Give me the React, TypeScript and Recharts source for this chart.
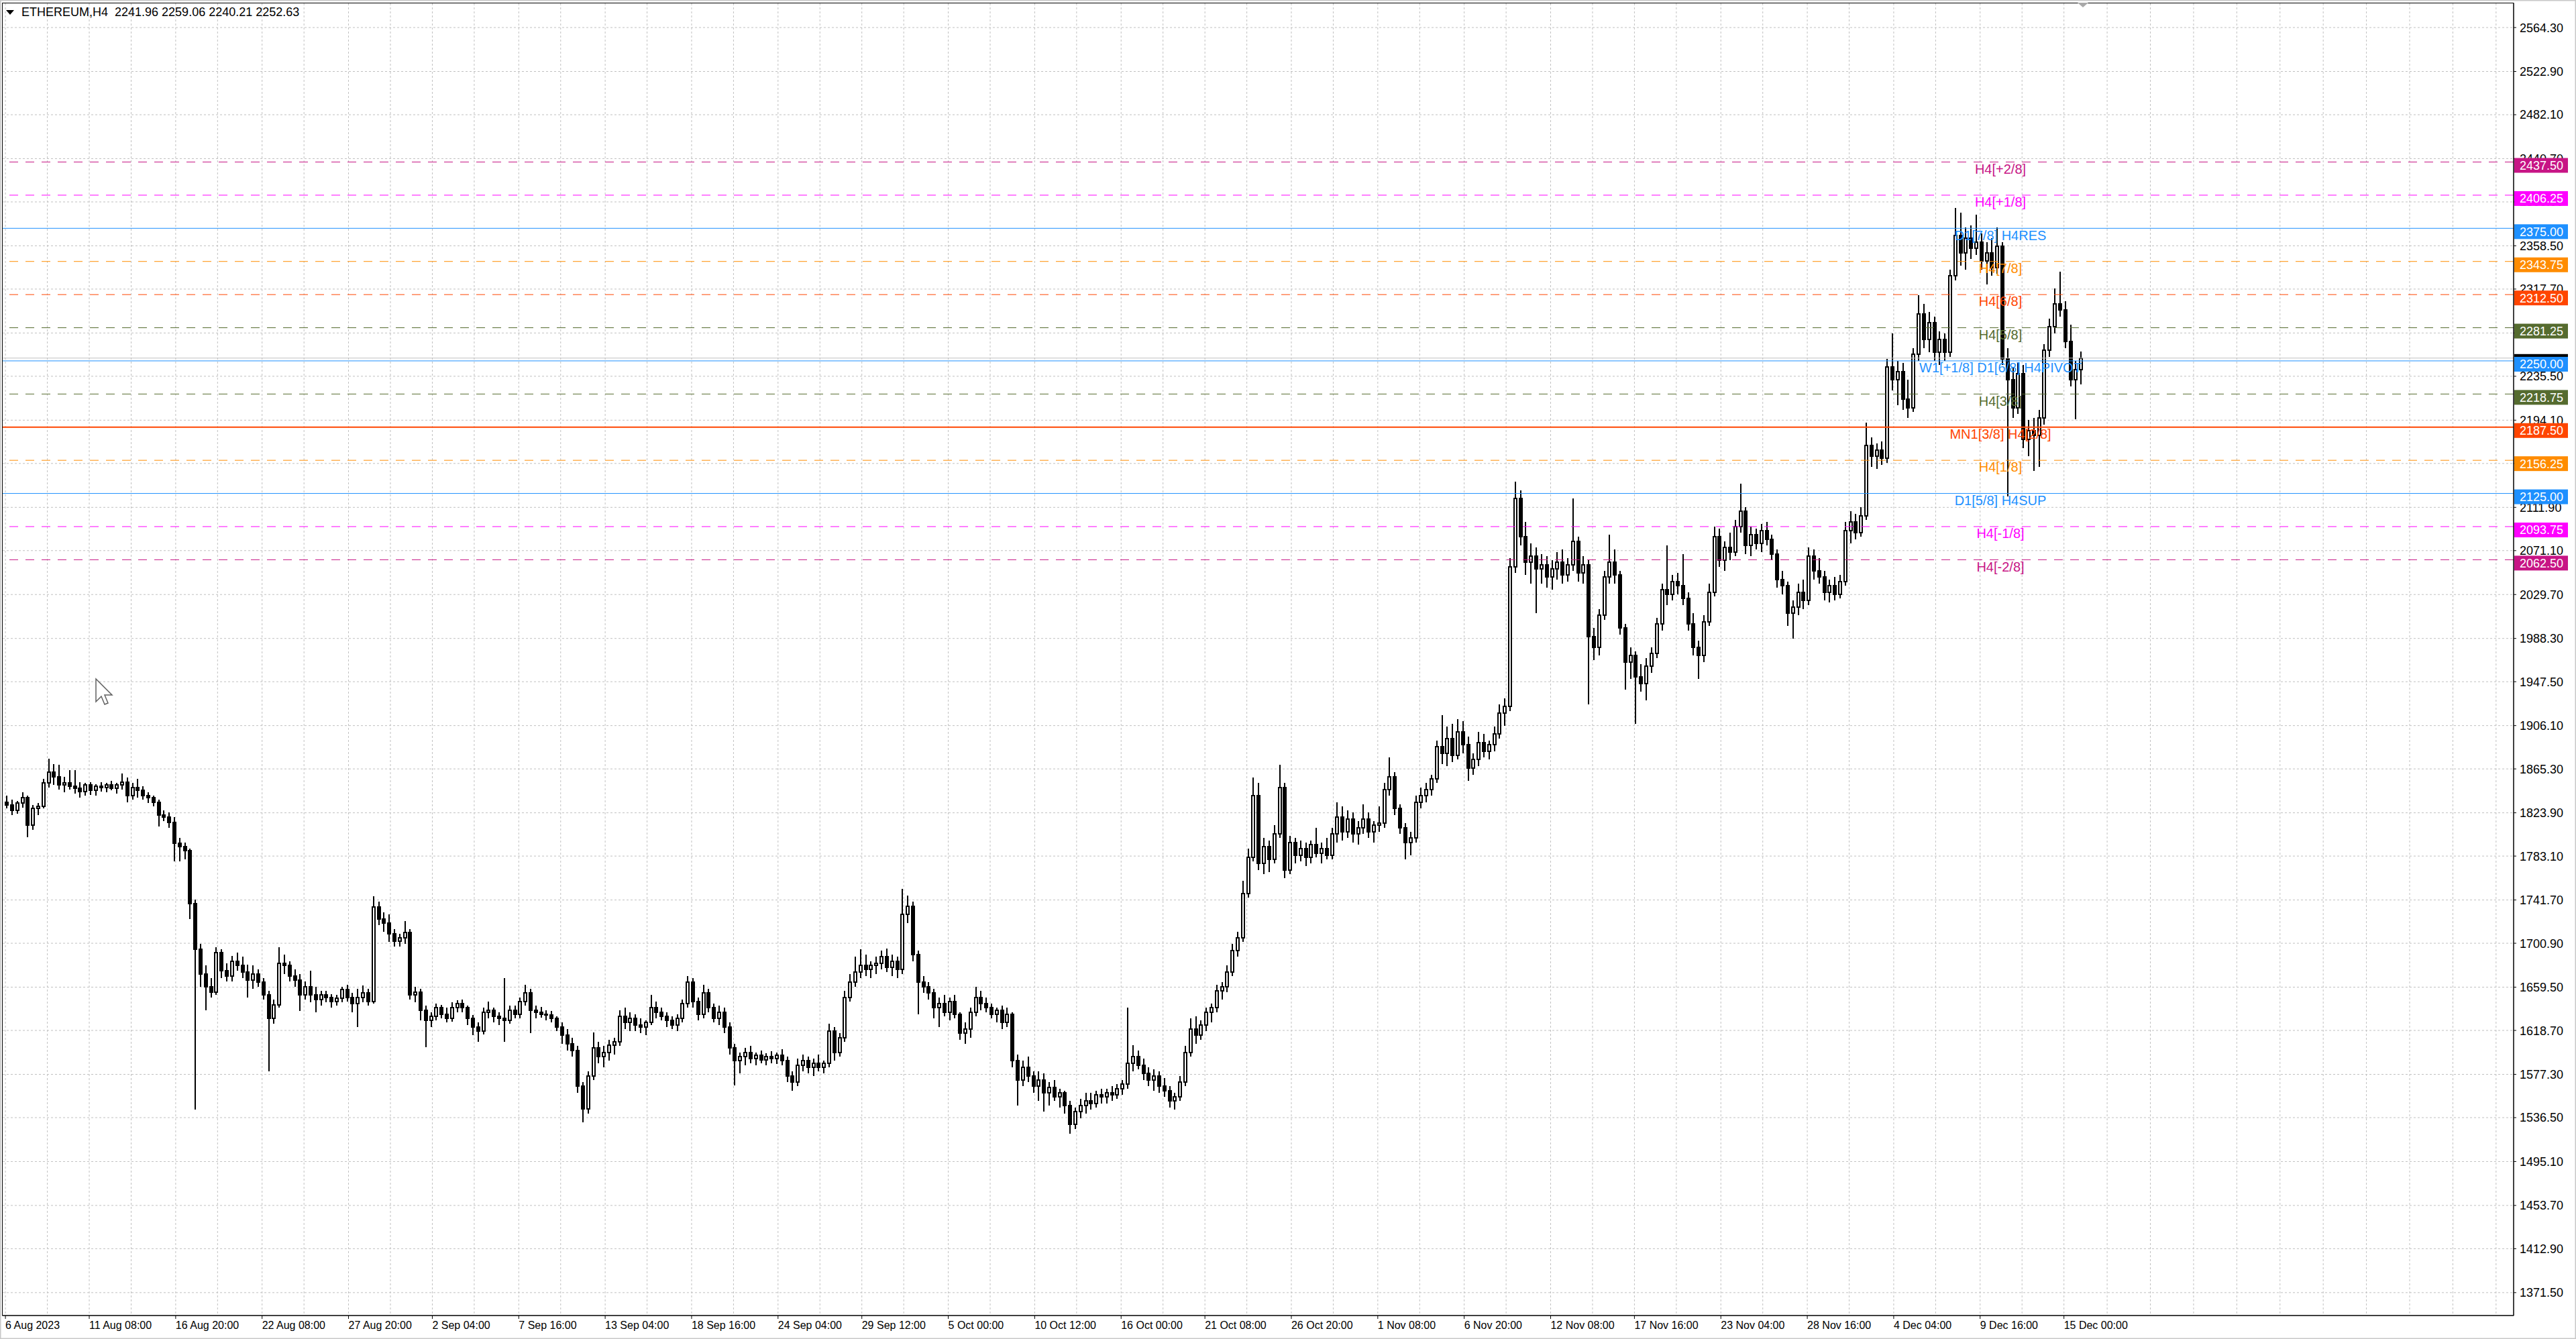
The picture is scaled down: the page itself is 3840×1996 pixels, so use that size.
import React from "react";
import {
  ComposedChart,
  Bar,
  Cell,
  XAxis,
  YAxis,
  CartesianGrid,
  ReferenceLine,
  ReferenceDot,
} from "recharts";

const FONT = "'Liberation Sans', Arial, sans-serif";

const candleOpen = [
  1834, 1831, 1826, 1833, 1838, 1812, 1828, 1830, 1852, 1862,
  1858, 1850, 1852, 1849, 1847, 1844, 1850, 1845, 1849, 1848,
  1850, 1847, 1850, 1853, 1840, 1848, 1845, 1840, 1838, 1834,
  1822, 1820, 1815, 1795, 1792, 1788, 1738, 1695, 1672, 1660,
  1655, 1692, 1675, 1670, 1684, 1680, 1674, 1666, 1672, 1664,
  1652, 1630, 1643, 1682, 1680, 1670, 1666, 1652, 1660, 1652,
  1648, 1652, 1650, 1646, 1649, 1657, 1650, 1644, 1650, 1654,
  1646, 1735, 1724, 1720, 1710, 1703, 1706, 1711, 1652, 1655,
  1638, 1628, 1632, 1640, 1634, 1630, 1640, 1644, 1640, 1630,
  1622, 1618, 1636, 1638, 1632, 1630, 1628, 1638, 1634, 1646,
  1654, 1638, 1636, 1634, 1633, 1630, 1622, 1614, 1606, 1600,
  1566, 1545, 1576, 1602, 1594, 1598, 1605, 1608, 1632, 1626,
  1630, 1624, 1622, 1626, 1640, 1636, 1632, 1628, 1624, 1630,
  1644, 1664, 1646, 1634, 1654, 1640, 1630, 1636, 1622, 1602,
  1590, 1594, 1598, 1592, 1595, 1591, 1594, 1592, 1595, 1590,
  1576, 1570, 1586, 1590, 1584, 1588, 1584, 1588, 1618, 1598,
  1612, 1650, 1664, 1674, 1680, 1676, 1680, 1682, 1688, 1678,
  1684, 1676, 1728, 1736, 1690, 1664, 1660, 1654, 1640, 1644,
  1636, 1646, 1634, 1616, 1620, 1636, 1650, 1644, 1640, 1634,
  1638, 1626, 1634, 1590, 1572, 1584, 1576, 1566, 1572, 1560,
  1565, 1556, 1560, 1548, 1530, 1542, 1548, 1552, 1550, 1558,
  1556, 1560, 1558, 1564, 1568, 1588, 1594, 1586, 1578, 1572,
  1576, 1566, 1562, 1552, 1556, 1570, 1598, 1620, 1614, 1624,
  1636, 1640, 1656, 1660, 1674, 1694, 1706, 1748, 1782, 1840,
  1776, 1792, 1780, 1804, 1848, 1770, 1796, 1784, 1790, 1782,
  1794, 1786, 1790, 1784, 1804, 1820, 1806, 1818, 1804, 1810,
  1818, 1806, 1812, 1814, 1846, 1858, 1828, 1810, 1796, 1800,
  1834, 1840, 1846, 1856, 1886, 1880, 1894, 1878, 1900, 1888,
  1866, 1874, 1890, 1882, 1888, 1898, 1918, 1924, 2056, 2120,
  2084, 2060, 2066, 2054, 2058, 2046, 2054, 2060, 2048, 2058,
  2080, 2050, 2058, 1990, 1980, 2010, 2046, 2060, 2048, 1998,
  1966, 1972, 1952, 1946, 1962, 1974, 2002, 2034, 2030, 2042,
  2038, 2026, 2002, 1980, 1972, 2004, 2032, 2084, 2062, 2074,
  2070, 2094, 2108, 2076, 2086, 2078, 2090, 2082, 2068, 2044,
  2038, 2012, 2018, 2032, 2024, 2066, 2052, 2046, 2032, 2038,
  2030, 2042, 2090, 2098, 2088, 2104, 2170, 2160, 2166, 2158,
  2244, 2232, 2240, 2214, 2206, 2256, 2294, 2270, 2286, 2258,
  2270, 2258, 2330, 2368, 2352, 2366, 2356, 2362, 2344, 2352,
  2338, 2358, 2252, 2232, 2206, 2238, 2176, 2184, 2180, 2196,
  2260, 2282, 2304, 2298, 2268, 2232, 2242,
];

const candleHigh = [
  1840, 1836, 1835, 1843, 1840, 1831, 1833, 1856, 1875, 1870,
  1869, 1858, 1864, 1864, 1853, 1852, 1853, 1851, 1853, 1852,
  1854, 1852, 1861, 1857, 1852, 1856, 1849, 1843, 1840, 1836,
  1826, 1824, 1820, 1800, 1796, 1790, 1742, 1700, 1680, 1668,
  1697, 1695, 1682, 1689, 1692, 1688, 1681, 1680, 1676, 1668,
  1656, 1648, 1697, 1690, 1684, 1676, 1672, 1665, 1675, 1660,
  1656, 1656, 1653, 1652, 1660, 1662, 1654, 1658, 1661, 1658,
  1745, 1740, 1730, 1728, 1714, 1710, 1722, 1714, 1660, 1658,
  1642, 1636, 1644, 1643, 1640, 1645, 1647, 1648, 1642, 1633,
  1626, 1640, 1646, 1640, 1636, 1668, 1642, 1642, 1650, 1662,
  1658, 1642, 1641, 1638, 1637, 1632, 1626, 1620, 1612, 1604,
  1570, 1580, 1617, 1608, 1604, 1610, 1612, 1638, 1640, 1636,
  1634, 1630, 1628, 1652, 1646, 1640, 1636, 1632, 1634, 1648,
  1670, 1668, 1650, 1662, 1658, 1644, 1642, 1640, 1626, 1606,
  1598, 1602, 1604, 1598, 1600, 1597, 1599, 1598, 1601, 1594,
  1580, 1592, 1596, 1594, 1592, 1596, 1590, 1625, 1622, 1616,
  1656, 1672, 1688, 1695, 1690, 1684, 1688, 1694, 1696, 1690,
  1688, 1752, 1746, 1740, 1694, 1670, 1664, 1658, 1650, 1652,
  1650, 1652, 1636, 1626, 1640, 1660, 1656, 1650, 1644, 1640,
  1642, 1640, 1636, 1596, 1590, 1594, 1580, 1580, 1578, 1570,
  1572, 1564, 1562, 1552, 1546, 1554, 1560, 1560, 1562, 1564,
  1564, 1566, 1568, 1572, 1640, 1605, 1600, 1592, 1584, 1582,
  1580, 1574, 1566, 1560, 1576, 1604, 1630, 1632, 1628, 1640,
  1644, 1662, 1664, 1680, 1700, 1712, 1760, 1790, 1857, 1852,
  1800, 1798, 1812, 1869, 1852, 1802, 1800, 1798, 1796, 1798,
  1810, 1796, 1800, 1810, 1834, 1830, 1826, 1824, 1816, 1832,
  1824, 1816, 1830, 1852, 1876, 1862, 1832, 1814, 1806, 1840,
  1848, 1852, 1860, 1892, 1916, 1905, 1908, 1912, 1910, 1896,
  1880, 1900, 1898, 1892, 1905, 1926, 1932, 2064, 2136, 2128,
  2098, 2078, 2074, 2068, 2066, 2062, 2070, 2072, 2064, 2120,
  2084, 2066, 2062, 1998, 2016, 2052, 2086, 2072, 2052, 2002,
  1980, 1976, 1964, 1970, 1980, 2008, 2040, 2076, 2048, 2050,
  2068, 2032, 2012, 1986, 2010, 2040, 2094, 2092, 2080, 2088,
  2100, 2134, 2112, 2094, 2092, 2096, 2098, 2086, 2072, 2052,
  2042, 2024, 2040, 2044, 2074, 2072, 2064, 2052, 2044, 2046,
  2048, 2098, 2108, 2106, 2112, 2192, 2178, 2172, 2174, 2252,
  2276, 2250, 2248, 2232, 2262, 2312, 2304, 2296, 2292, 2278,
  2276, 2336, 2394, 2390, 2376, 2378, 2388, 2370, 2362, 2366,
  2376, 2362, 2262, 2244, 2248, 2246, 2194, 2196, 2204, 2266,
  2290, 2318, 2334, 2306, 2284, 2250, 2259.06,
];

const candleLow = [
  1828, 1822, 1823, 1829, 1801, 1808, 1822, 1828, 1848, 1850,
  1846, 1843, 1846, 1842, 1838, 1840, 1841, 1840, 1844, 1843,
  1845, 1842, 1846, 1834, 1836, 1838, 1836, 1833, 1830, 1811,
  1816, 1810, 1778, 1778, 1780, 1724, 1544, 1660, 1638, 1650,
  1652, 1668, 1665, 1665, 1675, 1668, 1650, 1658, 1660, 1648,
  1580, 1625, 1640, 1672, 1665, 1660, 1637, 1648, 1645, 1636,
  1642, 1645, 1640, 1642, 1645, 1646, 1636, 1622, 1645, 1642,
  1644, 1718, 1712, 1702, 1698, 1698, 1700, 1648, 1645, 1628,
  1603, 1622, 1628, 1630, 1626, 1627, 1636, 1636, 1624, 1614,
  1608, 1615, 1630, 1626, 1624, 1608, 1625, 1630, 1630, 1642,
  1616, 1630, 1631, 1628, 1626, 1618, 1606, 1600, 1594, 1560,
  1532, 1540, 1572, 1588, 1584, 1590, 1596, 1604, 1620, 1618,
  1618, 1616, 1614, 1624, 1630, 1628, 1622, 1620, 1618, 1626,
  1640, 1640, 1628, 1630, 1636, 1626, 1624, 1616, 1596, 1567,
  1578, 1586, 1588, 1586, 1588, 1586, 1588, 1587, 1586, 1570,
  1562, 1566, 1580, 1578, 1576, 1580, 1578, 1584, 1590, 1594,
  1608, 1646, 1660, 1668, 1670, 1668, 1672, 1676, 1674, 1670,
  1668, 1672, 1720, 1684, 1634, 1654, 1648, 1630, 1622, 1632,
  1628, 1630, 1610, 1606, 1612, 1632, 1638, 1636, 1630, 1626,
  1620, 1622, 1584, 1548, 1566, 1570, 1560, 1552, 1542, 1548,
  1552, 1546, 1540, 1521, 1526, 1536, 1540, 1544, 1546, 1550,
  1550, 1552, 1554, 1558, 1564, 1580, 1582, 1572, 1566, 1562,
  1560, 1556, 1546, 1544, 1552, 1566, 1594, 1606, 1610, 1618,
  1626, 1636, 1648, 1655, 1670, 1688, 1702, 1744, 1778, 1770,
  1766, 1768, 1776, 1800, 1762, 1766, 1776, 1778, 1774, 1776,
  1782, 1776, 1780, 1780, 1796, 1798, 1800, 1796, 1794, 1804,
  1800, 1796, 1806, 1810, 1840, 1822, 1804, 1780, 1784, 1796,
  1828, 1834, 1840, 1852, 1870, 1868, 1872, 1874, 1880, 1854,
  1860, 1868, 1876, 1874, 1882, 1894, 1906, 1920, 2050, 2076,
  2048, 2040, 2012, 2040, 2036, 2034, 2044, 2040, 2042, 2052,
  2042, 2040, 1926, 1968, 1972, 2006, 2040, 2040, 1992, 1940,
  1950, 1908, 1938, 1930, 1956, 1970, 1996, 2020, 2024, 2030,
  2020, 1996, 1972, 1950, 1966, 2000, 2028, 2056, 2052, 2062,
  2066, 2088, 2068, 2066, 2072, 2070, 2076, 2062, 2036, 2030,
  2000, 1988, 2010, 2016, 2020, 2044, 2040, 2024, 2022, 2024,
  2026, 2038, 2078, 2082, 2084, 2100, 2150, 2148, 2152, 2154,
  2222, 2208, 2204, 2196, 2202, 2250, 2262, 2258, 2250, 2246,
  2250, 2254, 2326, 2340, 2336, 2346, 2350, 2336, 2322, 2330,
  2332, 2246, 2122, 2196, 2200, 2168, 2160, 2146, 2150, 2190,
  2254, 2276, 2292, 2262, 2226, 2195, 2228,
];

const candleClose = [
  1831, 1826, 1833, 1838, 1812, 1828, 1830, 1852, 1862, 1858,
  1850, 1852, 1849, 1847, 1844, 1850, 1845, 1849, 1848, 1850,
  1847, 1850, 1853, 1840, 1848, 1845, 1840, 1838, 1834, 1822,
  1820, 1815, 1795, 1792, 1788, 1738, 1695, 1672, 1660, 1655,
  1692, 1675, 1670, 1684, 1680, 1674, 1666, 1672, 1664, 1652,
  1630, 1643, 1682, 1680, 1670, 1666, 1652, 1660, 1652, 1648,
  1652, 1650, 1646, 1649, 1657, 1650, 1644, 1650, 1654, 1646,
  1735, 1724, 1720, 1710, 1703, 1706, 1711, 1652, 1655, 1638,
  1628, 1632, 1640, 1634, 1630, 1640, 1644, 1640, 1630, 1622,
  1618, 1636, 1638, 1632, 1630, 1628, 1638, 1634, 1646, 1654,
  1638, 1636, 1634, 1633, 1630, 1622, 1614, 1606, 1600, 1566,
  1545, 1576, 1602, 1594, 1598, 1605, 1608, 1632, 1626, 1630,
  1624, 1622, 1626, 1640, 1636, 1632, 1628, 1624, 1630, 1644,
  1664, 1646, 1634, 1654, 1640, 1630, 1636, 1622, 1602, 1590,
  1594, 1598, 1592, 1595, 1591, 1594, 1592, 1595, 1590, 1576,
  1570, 1586, 1590, 1584, 1588, 1584, 1588, 1618, 1598, 1612,
  1650, 1664, 1674, 1680, 1676, 1680, 1682, 1688, 1678, 1684,
  1676, 1728, 1736, 1690, 1664, 1660, 1654, 1640, 1644, 1636,
  1646, 1634, 1616, 1620, 1636, 1650, 1644, 1640, 1634, 1638,
  1626, 1634, 1590, 1572, 1584, 1576, 1566, 1572, 1560, 1565,
  1556, 1560, 1548, 1530, 1542, 1548, 1552, 1550, 1558, 1556,
  1560, 1558, 1564, 1568, 1588, 1594, 1586, 1578, 1572, 1576,
  1566, 1562, 1552, 1556, 1570, 1598, 1620, 1614, 1624, 1636,
  1640, 1656, 1660, 1674, 1694, 1706, 1748, 1782, 1840, 1776,
  1792, 1780, 1804, 1848, 1770, 1796, 1784, 1790, 1782, 1794,
  1786, 1790, 1784, 1804, 1820, 1806, 1818, 1804, 1810, 1818,
  1806, 1812, 1814, 1846, 1858, 1828, 1810, 1796, 1800, 1834,
  1840, 1846, 1856, 1886, 1880, 1894, 1878, 1900, 1888, 1866,
  1874, 1890, 1882, 1888, 1898, 1918, 1924, 2056, 2120, 2084,
  2060, 2066, 2054, 2058, 2046, 2054, 2060, 2048, 2058, 2080,
  2050, 2058, 1990, 1980, 2010, 2046, 2060, 2048, 1998, 1966,
  1972, 1952, 1946, 1962, 1974, 2002, 2034, 2030, 2042, 2038,
  2026, 2002, 1980, 1972, 2004, 2032, 2084, 2062, 2074, 2070,
  2094, 2108, 2076, 2086, 2078, 2090, 2082, 2068, 2044, 2038,
  2012, 2018, 2032, 2024, 2066, 2052, 2046, 2032, 2038, 2030,
  2042, 2090, 2098, 2088, 2104, 2170, 2160, 2166, 2158, 2244,
  2232, 2240, 2214, 2206, 2256, 2294, 2270, 2286, 2258, 2270,
  2258, 2330, 2368, 2352, 2366, 2356, 2362, 2344, 2352, 2338,
  2358, 2252, 2232, 2206, 2238, 2176, 2184, 2180, 2196, 2260,
  2282, 2304, 2298, 2268, 2232, 2242, 2252.63,
];

// time axis in hours since 6 Aug 2023 00:00
const timeTicks = [
  0, 128, 260, 392, 524, 652, 784, 916, 1048, 1180, 1308, 1440, 1572,
  1704, 1832, 1964, 2096, 2228, 2360, 2488, 2620, 2752, 2884, 3016, 3144,
];
const timeLabels = [
  "6 Aug 2023", "11 Aug 08:00", "16 Aug 20:00", "22 Aug 08:00", "27 Aug 20:00",
  "2 Sep 04:00", "7 Sep 16:00", "13 Sep 04:00", "18 Sep 16:00", "24 Sep 04:00",
  "29 Sep 12:00", "5 Oct 00:00", "10 Oct 12:00", "16 Oct 00:00", "21 Oct 08:00",
  "26 Oct 20:00", "1 Nov 08:00", "6 Nov 20:00", "12 Nov 08:00", "17 Nov 16:00",
  "23 Nov 04:00", "28 Nov 16:00", "4 Dec 04:00", "9 Dec 16:00", "15 Dec 00:00",
];
const futureGrid = [3210, 3276, 3342, 3408, 3474, 3540, 3606, 3672, 3738, 3804];

const priceTicks = [
  2564.3, 2522.9, 2482.1, 2440.7, 2399.9, 2358.5, 2317.7, 2276.3, 2235.5, 2194.1,
  2153.3, 2111.9, 2071.1, 2029.7, 1988.3, 1947.5, 1906.1, 1865.3, 1823.9, 1783.1,
  1741.7, 1700.9, 1659.5, 1618.7, 1577.3, 1536.5, 1495.1, 1453.7, 1412.9, 1371.5,
];

// Murrey math levels
const levelValues = [
  2437.5, 2406.25, 2375, 2343.75, 2312.5, 2281.25, 2250, 2218.75, 2187.5, 2156.25,
  2125, 2093.75, 2062.5,
];
const levelNames = [
  "H4[+2/8]", "H4[+1/8]", "D1[7/8] H4RES", "H4[7/8]", "H4[6/8]", "H4[5/8]",
  "W1[+1/8] D1[6/8] H4PIVOT", "H4[3/8]", "MN1[3/8] H4[2/8]", "H4[1/8]",
  "D1[5/8] H4SUP", "H4[-1/8]", "H4[-2/8]",
];
const levelColors = [
  "#C71585", "#FF00FF", "#1E90FF", "#FF8C00", "#FF4500", "#556B2F", "#1E90FF",
  "#556B2F", "#FF4500", "#FF8C00", "#1E90FF", "#FF00FF", "#C71585",
];
const levelDashed = [true, true, false, true, true, true, false, true, false, true, false, true, true];
const levelWidths = [1, 1, 1, 1, 1, 1, 1, 1, 2, 1, 1, 1, 1];
const levelLabelHour = 3047;

const bidPrice = 2252.63;
const titleText = "ETHEREUM,H4  2241.96 2259.06 2240.21 2252.63";

const candles = candleOpen.map((o, i) => {
  const c = candleClose[i];
  return {
    t: i * 8 + 2,
    wick: [candleLow[i], candleHigh[i]],
    body: [Math.min(o, c), Math.max(o, c)],
    up: c >= o,
  };
});

const gridHours = [
  ...timeTicks.slice(0, -1).flatMap((t) => [t, t + 64]),
  timeTicks[timeTicks.length - 1],
  ...futureGrid,
];

const xDomain = [-4.2, 3830.8];
const yDomain = [1349.9, 2587.1];

const TimeTick = (props: any) => {
  const { x, y, payload } = props;
  return (
    <text x={x} y={y + 13} fontSize={16} fontFamily={FONT} fill="#000">
      {timeLabels[timeTicks.indexOf(payload.value)]}
    </text>
  );
};

// plain price labels, or the coloured boxes of the levels (box sits a little below its line)
const PriceTick = (props: any) => {
  const { x, y, payload } = props;
  const v = payload.value;
  const li = levelValues.indexOf(v);
  if (li >= 0 || v === bidPrice) {
    const bg = li >= 0 ? levelColors[li] : "#000";
    return (
      <g>
        <rect x={x + 1} y={y - 6} width={80} height={22} fill={bg} />
        <text x={x + 9} y={y + 5} dy="0.36em" fontSize={18} fontFamily={FONT} fill="#fff">
          {v.toFixed(2)}
        </text>
      </g>
    );
  }
  return (
    <g>
      <line x1={x} x2={x + 4} y1={y} y2={y} stroke="#000" />
      <text x={x + 9} y={y} dy="0.36em" fontSize={18} fontFamily={FONT} fill="#000">
        {v.toFixed(2)}
      </text>
    </g>
  );
};

const App = () => {
  return (
    <div style={{ position: "absolute", left: 0, top: 0, width: 3840, height: 1996, background: "#fff" }}>
      <ComposedChart
        width={3840}
        height={1996}
        data={candles}
        margin={{ top: 5, right: 0, bottom: 0, left: 4 }}
      >
        <CartesianGrid
          xAxisId="time"
          stroke="#c0c0c0"
          strokeDasharray="3 3"
          horizontalValues={priceTicks}
          verticalValues={gridHours}
        />
        <XAxis
          xAxisId="time"
          dataKey="t"
          type="number"
          domain={xDomain}
          allowDataOverflow
          ticks={timeTicks}
          interval={0}
          tick={<TimeTick />}
          tickSize={5}
          tickMargin={2}
          height={35}
          stroke="#000"
        />
        <XAxis
          xAxisId="body"
          dataKey="t"
          type="number"
          domain={xDomain}
          allowDataOverflow
          orientation="top"
          height={0}
          hide
        />
        <YAxis
          orientation="right"
          type="number"
          domain={yDomain}
          allowDataOverflow
          ticks={[...priceTicks, bidPrice, ...levelValues]}
          interval={0}
          tick={<PriceTick />}
          tickLine={false}
          tickSize={0}
          tickMargin={0}
          width={93}
          stroke="#000"
        />
        {levelValues.map((v, i) => (
          <ReferenceLine
            key={"lvl" + i}
            xAxisId="time"
            y={v}
            stroke={levelColors[i]}
            strokeWidth={levelWidths[i]}
            strokeDasharray={levelDashed[i] ? "13 11" : undefined}
          />
        ))}
        <ReferenceLine xAxisId="time" y={bidPrice} stroke="#c0c0c0" />
        {levelValues.map((v, i) => (
          <ReferenceDot
            key={"name" + i}
            xAxisId="time"
            x={levelLabelHour}
            y={v}
            r={0}
            fill="none"
            stroke="none"
            label={{
              value: levelNames[i],
              position: "bottom",
              offset: 3,
              fill: levelColors[i],
              fontSize: 20,
              fontFamily: FONT,
            }}
          />
        ))}
        <Bar
          xAxisId="time"
          dataKey="wick"
          barSize={2}
          fill="#000"
          shapeRendering="crispEdges"
          isAnimationActive={false}
        />
        <Bar
          xAxisId="body"
          dataKey="body"
          barSize={4}
          stroke="#000"
          strokeWidth={2}
          shapeRendering="crispEdges"
          isAnimationActive={false}
        >
          {candles.map((d, i) => (
            <Cell key={i} fill={d.up ? "#fff" : "#000"} />
          ))}
        </Bar>
      </ComposedChart>
      <svg
        width={3840}
        height={1996}
        style={{ position: "absolute", left: 0, top: 0, pointerEvents: "none" }}
      >
        <rect x={0.5} y={0.5} width={3839} height={1995} fill="none" stroke="#c8c8c8" strokeWidth={2} />
        <rect x={3.5} y={4.5} width={3743.5} height={1956.5} fill="none" stroke="#000" />
        <polygon points="9,15 21,15 15,22" fill="#000" />
        <text x={32} y={24} fontSize={18} fontFamily={FONT} fill="#000" xmlSpace="preserve">
          {titleText}
        </text>
        <polygon points="3097,4 3113,4 3105,11" fill="#a8a8a8" />
        <path
          transform="translate(143 1012)"
          d="M0 0 L0 34 L8 26 L13 38 L18 36 L13 24 L24 24 Z"
          fill="#fff"
          stroke="#606060"
          strokeWidth={1.5}
        />
      </svg>
    </div>
  );
};

export default App;
